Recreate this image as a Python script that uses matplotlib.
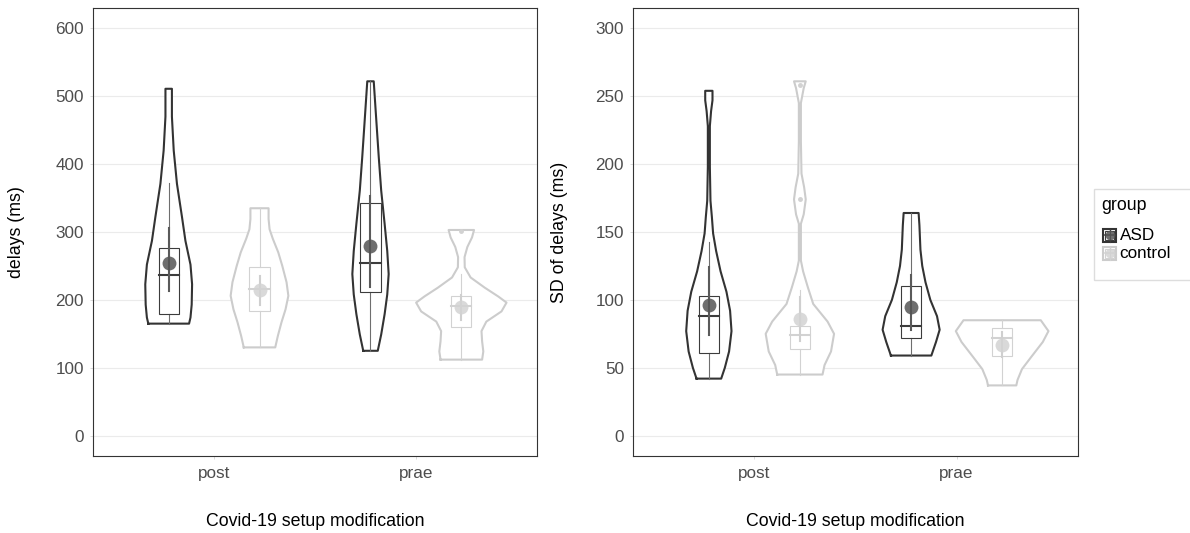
import numpy as np
import matplotlib.pyplot as plt
from matplotlib.patches import Rectangle

plt.rcParams['font.family'] = ['Liberation Sans', 'DejaVu Sans']

conditions = ['post', 'prae']
groups = ['ASD', 'control']

# violin outlines: values (y) and half widths (x units)
# panel 1: delays (ms)
d_asd_post_y = [165, 174, 193, 223, 252, 287, 322, 371, 420, 470, 504, 511]
d_asd_post_w = [0.101, 0.108, 0.114, 0.116, 0.108, 0.083, 0.066, 0.041, 0.025, 0.016, 0.016, 0.016]
d_ctl_post_y = [130, 147, 167, 186, 206, 226, 250, 270, 290, 304, 319, 335]
d_ctl_post_w = [0.078, 0.091, 0.109, 0.129, 0.143, 0.134, 0.113, 0.093, 0.066, 0.050, 0.045, 0.045]
d_asd_prae_y = [125, 149, 179, 208, 238, 272, 312, 361, 410, 459, 504, 522]
d_asd_prae_w = [0.036, 0.053, 0.070, 0.083, 0.090, 0.083, 0.070, 0.053, 0.041, 0.030, 0.020, 0.016]
d_ctl_prae_y = [112, 124, 139, 154, 168, 183, 196, 205, 218, 233, 248, 263, 278, 292, 303]
d_ctl_prae_w = [0.103, 0.109, 0.103, 0.100, 0.124, 0.199, 0.224, 0.183, 0.116, 0.046, 0.017, 0.016, 0.030, 0.053, 0.063]

# panel 2: SD of delays (ms)
s_asd_post_y = [42, 50, 62, 77, 92, 106, 121, 136, 149, 161, 173, 198, 228, 239, 247, 254]
s_asd_post_w = [0.061, 0.079, 0.100, 0.112, 0.105, 0.087, 0.058, 0.036, 0.021, 0.015, 0.008, 0.005, 0.005, 0.011, 0.018, 0.018]
s_ctl_post_y = [45, 52, 62, 75, 84, 97, 109, 121, 129, 156, 163, 174, 183, 193, 217, 245, 256, 261]
s_ctl_post_w = [0.112, 0.122, 0.154, 0.169, 0.137, 0.066, 0.040, 0.016, 0.005, 0.005, 0.019, 0.029, 0.021, 0.008, 0.005, 0.005, 0.019, 0.029]
s_asd_prae_y = [59, 69, 78, 88, 100, 113, 125, 137, 155, 164]
s_asd_prae_w = [0.100, 0.123, 0.141, 0.128, 0.095, 0.071, 0.055, 0.046, 0.041, 0.037]
s_ctl_prae_y = [37, 41, 49, 58, 69, 77, 85]
s_ctl_prae_w = [0.070, 0.076, 0.098, 0.144, 0.201, 0.229, 0.191]

# box stats: q1, median, q3, whisker low, whisker high
d_box = {('post', 'ASD'): [179, 236, 276, 165, 372],
         ('post', 'control'): [183, 216, 248, 130, 335],
         ('prae', 'ASD'): [211, 254, 342, 125, 522],
         ('prae', 'control'): [160, 191, 205, 112, 238]}
s_box = {('post', 'ASD'): [61, 88, 103, 42, 143],
         ('post', 'control'): [64, 74, 81, 45, 107],
         ('prae', 'ASD'): [72, 81, 110, 59, 164],
         ('prae', 'control'): [59, 72, 79, 37, 85]}
d_outliers = {('prae', 'control'): [302]}
s_outliers = {('post', 'control'): [174, 258]}

# mean, lower, upper
d_mean = {('post', 'ASD'): [254, 213, 306],
          ('post', 'control'): [214, 192, 235],
          ('prae', 'ASD'): [279, 219, 353],
          ('prae', 'control'): [190, 171, 207]}
s_mean = {('post', 'ASD'): [96, 74, 124],
          ('post', 'control'): [86, 70, 102],
          ('prae', 'ASD'): [95, 78, 118],
          ('prae', 'control'): [67, 58, 76]}

d_violins = {('post', 'ASD'): (d_asd_post_y, d_asd_post_w),
             ('post', 'control'): (d_ctl_post_y, d_ctl_post_w),
             ('prae', 'ASD'): (d_asd_prae_y, d_asd_prae_w),
             ('prae', 'control'): (d_ctl_prae_y, d_ctl_prae_w)}
s_violins = {('post', 'ASD'): (s_asd_post_y, s_asd_post_w),
             ('post', 'control'): (s_ctl_post_y, s_ctl_post_w),
             ('prae', 'ASD'): (s_asd_prae_y, s_asd_prae_w),
             ('prae', 'control'): (s_ctl_prae_y, s_ctl_prae_w)}

style = {'ASD': dict(violin='#333333', box='#3c3c3c', whisk='#6e6e6e', err='#5a5a5a', pt='#555555'),
         'control': dict(violin='#cccccc', box='#d2d2d2', whisk='#d2d2d2', err='#cfcfcf', pt='#d3d3d3')}

fig = plt.figure(figsize=(11.9, 5.33), dpi=100)
ax1 = fig.add_axes([93/1190, 77/533, 444/1190, 448/533])
ax2 = fig.add_axes([633/1190, 77/533, 445/1190, 448/533])


def draw_panel(ax, violins, boxes, means, outliers, ylim, yticks, ylabel, ypad):
    for ci, cond in enumerate(conditions):
        for gi, grp in enumerate(groups):
            xc = ci + 1 + (-0.225 if gi == 0 else 0.225)
            st = style[grp]
            vy, vw = violins[(cond, grp)]
            vy = np.array(vy)
            vw = np.array(vw)
            px = np.concatenate([xc - vw, (xc + vw)[::-1], [xc - vw[0]]])
            py = np.concatenate([vy, vy[::-1], [vy[0]]])
            ax.fill(px, py, color='white', zorder=2)
            ax.plot(px, py, color=st['violin'], lw=1.5, zorder=3, solid_joinstyle='round')
            q1, med, q3, lo, hi = boxes[(cond, grp)]
            bw = 0.05
            ax.plot([xc, xc], [lo, q1], color=st['whisk'], lw=0.8, zorder=4)
            ax.plot([xc, xc], [q3, hi], color=st['whisk'], lw=0.8, zorder=4)
            ax.add_patch(Rectangle((xc - bw, q1), 2 * bw, q3 - q1, facecolor='none',
                                   edgecolor=st['box'], lw=0.8, zorder=4))
            ax.plot([xc - bw, xc + bw], [med, med], color=st['box'], lw=1.5, zorder=4)
            for o in outliers.get((cond, grp), []):
                ax.plot(xc, o, 'o', ms=2.5, color=st['box'], zorder=4)
            m, mlo, mhi = means[(cond, grp)]
            ax.plot([xc, xc], [mlo, mhi], color=st['err'], lw=1.5, zorder=5)
            ax.plot(xc, m, 'o', ms=10, color=st['pt'], alpha=0.85, mew=0, zorder=6)
    ax.set_xlim(0.4, 2.6)
    ax.set_ylim(*ylim)
    ax.set_xticks([1, 2])
    ax.set_xticklabels(conditions)
    ax.set_yticks(yticks)
    ax.grid(axis='y', color='#ebebeb', lw=0.8, zorder=0)
    ax.set_axisbelow(True)
    for sp in ax.spines.values():
        sp.set_color('#333333')
        sp.set_linewidth(0.8)
    ax.tick_params(axis='both', colors='#cccccc', labelcolor='#4d4d4d', labelsize=12.3,
                   length=2.5, width=0.5)
    ax.tick_params(axis='x', pad=5)
    ax.tick_params(axis='y', pad=4)
    ax.set_xlabel('Covid-19 setup modification', fontsize=12.8, labelpad=23)
    ax.set_ylabel(ylabel, fontsize=12.8, labelpad=ypad)


draw_panel(ax1, d_violins, d_box, d_mean, d_outliers, (-30, 630),
           [0, 100, 200, 300, 400, 500, 600], 'delays (ms)', 22)
draw_panel(ax2, s_violins, s_box, s_mean, s_outliers, (-15, 315),
           [0, 50, 100, 150, 200, 250, 300], 'SD of delays (ms)', 20)

# legend
leg = fig.add_axes([1093/1190, (533 - 280)/533, 97/1190, 92/533])
leg.set_xlim(0, 97)
leg.set_ylim(92, 0)
leg.axis('off')
leg.add_patch(Rectangle((0.5, 0.5), 110, 91, facecolor='white', edgecolor='#dddddd', lw=1.0,
                        clip_on=False))
leg.text(8, 17, 'group', fontsize=12.8, va='center', ha='left')
for i, grp in enumerate(groups):
    st = style[grp]
    yc = 47 + i * 18
    leg.add_patch(Rectangle((10, yc - 6.5), 13, 13, facecolor='white', edgecolor=st['violin'], lw=1.5))
    leg.add_patch(Rectangle((12, yc - 4.5), 9, 9, facecolor='none', edgecolor=st['box'], lw=0.8))
    leg.plot([16.5, 16.5], [yc - 6.5, yc + 6.5], color=st['box'], lw=0.8)
    leg.plot([12, 21], [yc, yc], color=st['box'], lw=1.2)
    leg.plot(16.5, yc, 'o', ms=7, color=st['pt'], alpha=0.85, mew=0)
    leg.text(26.5, yc + 1, grp, fontsize=12.3, va='center', ha='left')

fig.savefig('out.png', dpi=100)
